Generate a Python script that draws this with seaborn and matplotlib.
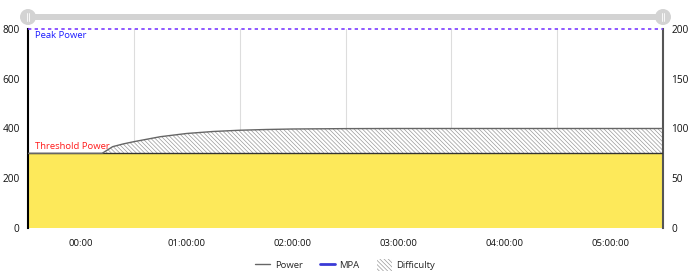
import numpy as np
import pandas as pd
import matplotlib
matplotlib.use("Agg")
import matplotlib.pyplot as plt
import seaborn as sns
from matplotlib.patches import FancyBboxPatch, Circle, Patch
from matplotlib.lines import Line2D

sns.set_theme(style="white")
plt.rcParams['font.family'] = ['Open Sans', 'DejaVu Sans']
plt.rcParams['hatch.linewidth'] = 0.5

# data
hours = [-0.5, 0.2, 0.3, 0.4, 0.5, 0.75, 1.0, 1.25, 1.5, 1.75, 2.0, 2.5, 3.0, 5.5]
power = [300, 300, 327, 338, 347, 367, 380, 388, 393, 396, 398, 399.5, 400, 400]
threshold_power = 300
peak_power = 800
tick_hours = [0, 1, 2, 3, 4, 5]
tick_labels = ["00:00", "01:00:00", "02:00:00", "03:00:00", "04:00:00", "05:00:00"]
left_ticks = [0, 200, 400, 600, 800]
right_ticks = [0, 50, 100, 150, 200]

df = pd.DataFrame({"hours": hours, "power": power})

fig = plt.figure(figsize=(6.9, 2.77), dpi=100)
ax = fig.add_axes([28/690, 1-228/277, 635/690, 199/277])
ax.set_xlim(-0.5, 5.5)
ax.set_ylim(0, 800)

# threshold fill
ax.fill_between([-0.5, 5.5], 0, threshold_power, color="#fde95a", zorder=1, linewidth=0)
ax.axhline(threshold_power, color="#333333", lw=1.0, zorder=3)

# difficulty hatched area
HATCH = "\\\\\\\\\\\\\\\\"
ax.fill_between(df["hours"], threshold_power, df["power"], facecolor="white",
                edgecolor="#999999", hatch=HATCH, linewidth=0, zorder=2)
sns.lineplot(data=df, x="hours", y="power", ax=ax, color="#666666", lw=1.0, zorder=4)

# peak power line
ax.axhline(peak_power, color="#7a3cff", lw=1.2, ls=(0, (2, 2)), zorder=5, clip_on=False)

# grid lines at band boundaries
for b in np.arange(0.5, 5.5, 1.0):
    ax.axvline(b, color="#dddddd", lw=0.8, zorder=0)

FS = 6.8
ax.text(-0.43, 775, "Peak Power", color="#1a1aff", fontsize=FS, va="center")
ax.text(-0.43, 328, "Threshold Power", color="#ff1a1a", fontsize=FS, va="center")

ax.set_xticks(tick_hours)
ax.set_xticklabels(tick_labels, fontsize=FS, color="#111111")
ax.set_yticks(left_ticks)
ax.set_yticklabels([str(v) for v in left_ticks], fontsize=7.3, color="#111111")
ax.tick_params(axis="x", length=0, pad=8)
ax.tick_params(axis="y", length=0, pad=6)
ax.set_xlabel("")
ax.set_ylabel("")
for s in ["top", "bottom"]:
    ax.spines[s].set_visible(False)
ax.spines["left"].set_color("#000000")
ax.spines["left"].set_linewidth(1.5)
ax.spines["right"].set_color("#555555")
ax.spines["right"].set_linewidth(1.5)

ax2 = ax.twinx()
ax2.set_ylim(0, 200)
ax2.set_yticks(right_ticks)
ax2.set_yticklabels([str(v) for v in right_ticks], fontsize=7.3, color="#111111")
ax2.tick_params(axis="y", length=0, pad=6)
for s in ["top", "bottom", "left", "right"]:
    ax2.spines[s].set_visible(False)
ax2.grid(False)

# slider
sl = fig.add_axes([0, 0, 1, 1], facecolor="none")
sl.set_xlim(0, 690)
sl.set_ylim(277, 0)
sl.axis("off")
sl.add_patch(FancyBboxPatch((28, 14), 635, 6, boxstyle="round,pad=0,rounding_size=3",
                            fc="#d3d3d3", ec="none"))
for cx in (28, 663):
    sl.add_patch(Circle((cx, 17), 8, fc="#d3d3d3", ec="none"))
    sl.plot([cx - 1, cx - 1], [13, 21], color="white", lw=0.6)
    sl.plot([cx + 1, cx + 1], [13, 21], color="white", lw=0.6)

handles = [Line2D([], [], color="#666666", lw=1.0),
           Line2D([], [], color="#3a3ad6", lw=2.0),
           Patch(facecolor="white", edgecolor="#999999", hatch=HATCH, lw=0)]
fig.legend(handles, ["Power", "MPA", "Difficulty"], loc="center", ncol=3,
           bbox_to_anchor=(0.5, 1-265/277), frameon=False, fontsize=FS,
           handlelength=1.6, handleheight=1.6, columnspacing=1.8, handletextpad=0.5)

fig.savefig("out.png", dpi=100)
